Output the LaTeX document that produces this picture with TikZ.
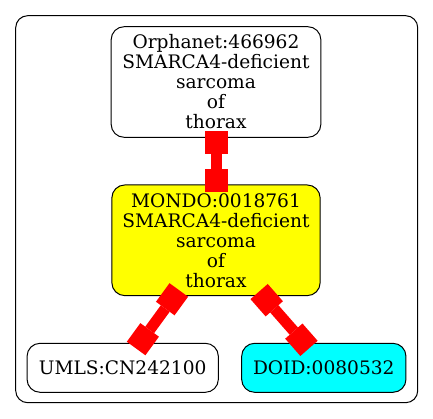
\documentclass[tikz,border=0pt]{standalone}
\usepackage{fontspec}
\setmainfont{DejaVu Serif}
\usetikzlibrary{arrows.meta,calc}
\definecolor{nodeyellow}{RGB}{255,255,0}
\definecolor{nodecyan}{RGB}{0,255,255}
\definecolor{edgered}{RGB}{255,0,0}
\begin{document}
\begin{tikzpicture}[x=1pt,y=-1pt,
  box/.style={draw=black, line width=1pt, rounded corners=13pt, align=center, inner sep=0pt, outer sep=0pt, font=\fontsize{18.6}{20}\selectfont},
  edge/.style={draw=edgered, line width=11pt, {Square[length=23pt,width=23pt,line width=0pt]}-{Square[length=23pt,width=23pt,line width=0pt]}}]
\useasboundingbox (0,0) rectangle (433,419);
\node[draw=black, rounded corners=12pt, line width=1pt, minimum width=402pt, minimum height=387pt, inner sep=0pt] (cluster) at (216.7,209.2) {};
\node[box, minimum width=209.7pt, minimum height=110.6pt] (orpha) at (216,82) {Orphanet:466962\\SMARCA4-deficient\\sarcoma\\of\\thorax};
\node[box, fill=nodeyellow, minimum width=208.3pt, minimum height=110.7pt] (mondo) at (216,240.3) {MONDO:0018761\\SMARCA4-deficient\\sarcoma\\of\\thorax};
\node[box, minimum width=191.3pt, minimum height=49pt] (umls) at (122.7,367.8) {UMLS:CN242100};
\node[box, fill=nodecyan, minimum width=164.3pt, minimum height=49pt] (doid) at (323.8,367.8) {DOID:0080532};
\draw[edge] ($(orpha.south)+(0,-6.6)$) -- ($(mondo.north)+(0,6.7)$);
\draw[edge] ($(mondo.south)+(-37.2,-5.7)$) -- ($(umls.north)+(13.4,5.2)$);
\draw[edge] ($(mondo.south)+(43.1,-4.1)$) -- ($(doid.north)+(-14.8,5.1)$);
\end{tikzpicture}
\end{document}
